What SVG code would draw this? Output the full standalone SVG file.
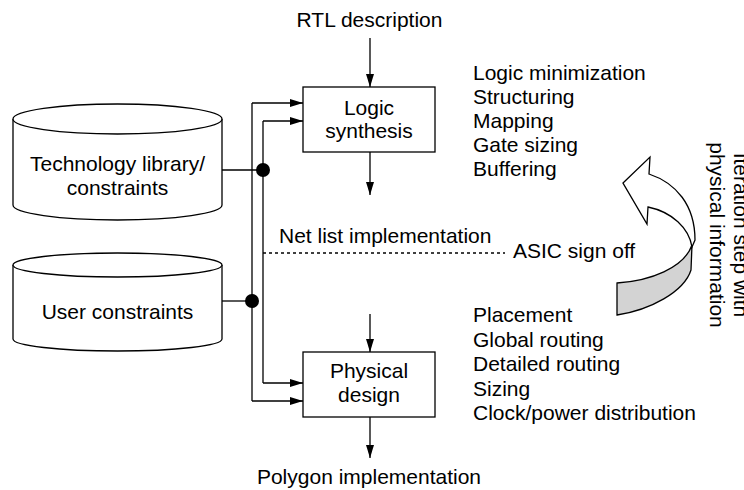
<svg xmlns="http://www.w3.org/2000/svg" width="744" height="490" viewBox="0 0 744 490">
<style>
text{font-family:"Liberation Sans",Arial,sans-serif;font-size:21px;fill:#000}
.c{text-anchor:middle}
.ln{fill:none;stroke:#000;stroke-width:1.3}
.sh{fill:#fff;stroke:#000;stroke-width:1.3}
</style>
<defs>
<marker id="ah" viewBox="0 0 13 8" refX="13" refY="4" markerWidth="13" markerHeight="8" markerUnits="userSpaceOnUse" orient="auto">
<path d="M0,0 L13,4 L0,8 Z" fill="#000"/>
</marker>
</defs>
<rect width="744" height="490" fill="#fff"/>

<g id="rtl"><text class="c" x="369.5" y="27">RTL description</text></g>

<g id="tech-lib">
<path class="sh" d="M13,119 L13,205 A104.5,15 0 0 0 222,205 L222,119"/>
<ellipse class="sh" cx="117.5" cy="119" rx="104.5" ry="15"/>
<text class="c" x="117.5" y="171">Technology library/</text>
<text class="c" x="117.5" y="195">constraints</text>
</g>

<g id="user-constraints">
<path class="sh" d="M13,265 L13,339 A104.5,12 0 0 0 222,339 L222,265"/>
<ellipse class="sh" cx="117.5" cy="265" rx="104.5" ry="12"/>
<text class="c" x="117.5" y="319">User constraints</text>
</g>

<g id="logic-synthesis">
<rect class="sh" x="303" y="87" width="132" height="65"/>
<text class="c" x="369" y="115">Logic</text>
<text class="c" x="369" y="138">synthesis</text>
</g>

<g id="physical-design">
<rect class="sh" x="303" y="352" width="132" height="65"/>
<text class="c" x="369" y="378">Physical</text>
<text class="c" x="369" y="402">design</text>
</g>

<g id="polygon"><text class="c" x="369" y="484">Polygon implementation</text></g>

<g id="logic-steps">
<text x="473" y="80">Logic minimization</text>
<text x="473" y="104">Structuring</text>
<text x="473" y="128">Mapping</text>
<text x="473" y="152">Gate sizing</text>
<text x="473" y="176">Buffering</text>
</g>

<g id="physical-steps">
<text x="473" y="322">Placement</text>
<text x="473" y="346.5">Global routing</text>
<text x="473" y="371">Detailed routing</text>
<text x="473" y="395.5">Sizing</text>
<text x="473" y="420">Clock/power distribution</text>
</g>

<g id="netlist">
<text x="279" y="243">Net list implementation</text>
</g>
<g id="signoff">
<text x="513" y="258">ASIC sign off</text>
</g>

<g id="iteration">
<path d="M617,283 C650,281 684,268 692,245 L691,270 C684,292 650,310 617,315 Z" fill="#d3d3d3" stroke="#000" stroke-width="1.3"/>
<path class="sh" d="M623,183 L650,157 L649,174 C676,183 695,205 695,240 L692,247 C689,228 672,212 648,207 L647,224 Z"/>
<text class="c" transform="translate(734,235) rotate(90)">Iteration step with</text>
<text class="c" transform="translate(710,235) rotate(90)">physical information</text>
</g>

<g id="connectors">
<line class="ln" x1="370" y1="38" x2="370" y2="87" marker-end="url(#ah)"/>
<line class="ln" x1="370" y1="152" x2="370" y2="195" marker-end="url(#ah)"/>
<line class="ln" x1="370" y1="314" x2="370" y2="352" marker-end="url(#ah)"/>
<line class="ln" x1="370" y1="417" x2="370" y2="458" marker-end="url(#ah)"/>
<line class="ln" x1="252" y1="103" x2="252" y2="401"/>
<line class="ln" x1="263" y1="121" x2="263" y2="383"/>
<line class="ln" x1="252" y1="103" x2="303" y2="103" marker-end="url(#ah)"/>
<line class="ln" x1="263" y1="121" x2="303" y2="121" marker-end="url(#ah)"/>
<line class="ln" x1="263" y1="383" x2="303" y2="383" marker-end="url(#ah)"/>
<line class="ln" x1="252" y1="401" x2="303" y2="401" marker-end="url(#ah)"/>
<line class="ln" x1="222" y1="170" x2="263" y2="170"/>
<line class="ln" x1="222" y1="301" x2="252" y2="301"/>
<circle cx="263" cy="170" r="7" fill="#000"/>
<circle cx="252" cy="301" r="7" fill="#000"/>
<line class="ln" x1="263" y1="253" x2="505" y2="253" stroke-dasharray="3,3"/>
</g>
</svg>
